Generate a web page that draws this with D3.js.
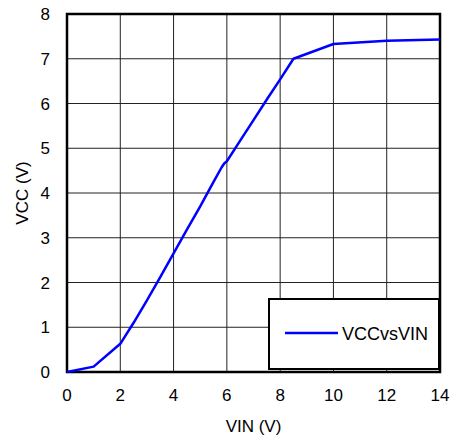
<!DOCTYPE html>
<html>
<head>
<meta charset="utf-8">
<script src="https://cdn.jsdelivr.net/npm/d3@7"></script>
<style>
  body { margin: 0; background: #fff; }
  text { font-family: "Liberation Sans", Arial, sans-serif; fill: #000; }
</style>
</head>
<body>
<script>
const vin = [0, 1, 2, 2.5, 3, 3.5, 4, 4.5, 5, 5.5, 5.8, 5.9, 6, 6.5, 7, 7.5, 8, 8.5, 10, 12, 14];
const vcc = [0, 0.12, 0.63, 1.1, 1.6, 2.12, 2.65, 3.18, 3.7, 4.25, 4.57, 4.66, 4.71, 5.17, 5.63, 6.09, 6.54, 7.0, 7.33, 7.4, 7.43];
const xTicks = [0, 2, 4, 6, 8, 10, 12, 14];
const yTicks = [0, 1, 2, 3, 4, 5, 6, 7, 8];
const seriesName = "VCCvsVIN";

const w = 455, h = 439;
const plotL = 67, plotR = 440, plotT = 14, plotB = 372;

const x = d3.scaleLinear().domain([0, 14]).range([plotL, plotR]);
const y = d3.scaleLinear().domain([0, 8]).range([plotB, plotT]);

const svg = d3.select("body").append("svg")
  .attr("width", w)
  .attr("height", h);

// grid
svg.append("g")
  .selectAll("line")
  .data(xTicks.slice(1, -1)).enter()
  .append("line")
  .attr("x1", d => x(d)).attr("x2", d => x(d))
  .attr("y1", plotT).attr("y2", plotB)
  .attr("stroke", "#222").attr("stroke-width", 1);

svg.append("g")
  .selectAll("line")
  .data(yTicks.slice(1, -1)).enter()
  .append("line")
  .attr("y1", d => y(d)).attr("y2", d => y(d))
  .attr("x1", plotL).attr("x2", plotR)
  .attr("stroke", "#222").attr("stroke-width", 1);

// frame
svg.append("rect")
  .attr("x", plotL).attr("y", plotT)
  .attr("width", plotR - plotL).attr("height", plotB - plotT)
  .attr("fill", "none").attr("stroke", "#000").attr("stroke-width", 2.5);

// curve
const line = d3.line()
  .x((d, i) => x(vin[i]))
  .y(d => y(d));

svg.append("path")
  .datum(vcc)
  .attr("d", line)
  .attr("fill", "none")
  .attr("stroke", "#0000ff")
  .attr("stroke-width", 2.5)
  .attr("stroke-linejoin", "round");

// tick labels
svg.append("g")
  .selectAll("text")
  .data(xTicks).enter()
  .append("text")
  .attr("x", d => x(d))
  .attr("y", 401)
  .attr("text-anchor", "middle")
  .attr("font-size", 17)
  .text(d => d);

svg.append("g")
  .selectAll("text")
  .data(yTicks).enter()
  .append("text")
  .attr("x", 50)
  .attr("y", d => y(d) + 6)
  .attr("text-anchor", "end")
  .attr("font-size", 17)
  .text(d => d);

// axis titles
svg.append("text")
  .attr("x", (plotL + plotR) / 2)
  .attr("y", 432)
  .attr("text-anchor", "middle")
  .attr("font-size", 17)
  .text("VIN (V)");

svg.append("text")
  .attr("transform", `translate(28, ${(plotT + plotB) / 2}) rotate(-90)`)
  .attr("text-anchor", "middle")
  .attr("font-size", 17)
  .text("VCC (V)");

// legend
const legend = svg.append("g");
legend.append("rect")
  .attr("x", 269).attr("y", 299)
  .attr("width", 170).attr("height", 70)
  .attr("fill", "#fff").attr("stroke", "#000").attr("stroke-width", 2);
legend.append("line")
  .attr("x1", 285).attr("x2", 338)
  .attr("y1", 333).attr("y2", 333)
  .attr("stroke", "#0000ff").attr("stroke-width", 2.5);
legend.append("text")
  .attr("x", 342).attr("y", 340)
  .attr("font-size", 18)
  .text(seriesName);
</script>
</body>
</html>
